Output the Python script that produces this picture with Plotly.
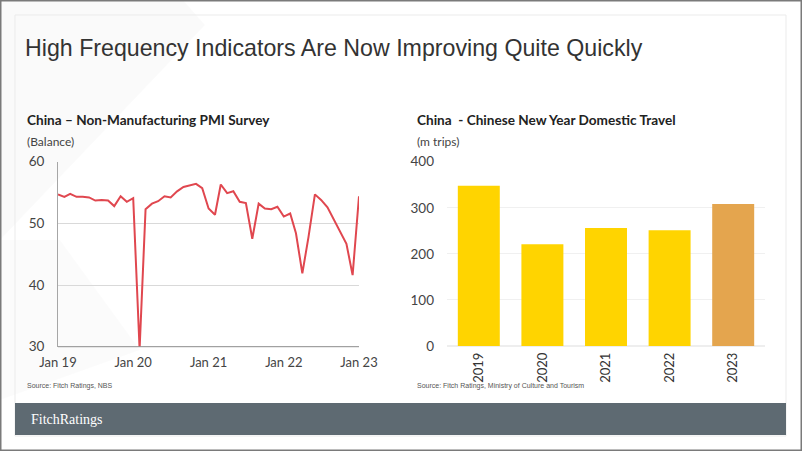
import plotly.graph_objects as go
import pandas as pd

W, H = 802, 451

# ---- Data ----
pmi_months = pd.date_range("2019-01-01", "2023-01-01", freq="MS")
pmi_values = [
    54.7, 54.3, 54.8, 54.3, 54.3, 54.2, 53.7, 53.8, 53.7, 52.8, 54.4, 53.5,
    54.1, 29.6, 52.3, 53.2, 53.6, 54.4, 54.2, 55.2, 55.9, 56.2, 56.4, 55.7,
    52.4, 51.4, 56.3, 54.9, 55.2, 53.5, 53.3, 47.5, 53.2, 52.4, 52.3, 52.7,
    51.1, 51.6, 48.4, 41.9, 47.8, 54.7, 53.8, 52.6, 50.6, 48.7, 46.7, 41.6,
    54.4,
]
travel_years = ["2019", "2020", "2021", "2022", "2023"]
travel_trips = [348, 221, 256, 251, 308]
bar_colors = ["#FFD400", "#FFD400", "#FFD400", "#FFD400", "#E4A54E"]

pmi_ticks = [30, 40, 50, 60]
travel_ticks = [0, 100, 200, 300, 400]


def px(x):
    return x / W


def py(y):
    return 1 - y / H


fig = go.Figure()

fig.add_trace(go.Scatter(
    x=pmi_months, y=pmi_values, mode="lines",
    line=dict(color="#E0474F", width=2),
    xaxis="x", yaxis="y", showlegend=False, hoverinfo="x+y",
))

fig.add_trace(go.Bar(
    x=travel_years, y=travel_trips, marker=dict(color=bar_colors, line=dict(width=0)),
    xaxis="x2", yaxis="y2", showlegend=False,
))

tick_font = dict(family="Lato", size=13.5, color="#444444")

fig.update_layout(
    width=W, height=H,
    margin=dict(l=0, r=0, t=0, b=0, pad=0),
    autosize=False,
    paper_bgcolor="white", plot_bgcolor="rgba(0,0,0,0)",
    bargap=0.34,
    xaxis=dict(
        domain=[px(58), px(359)], anchor="y", automargin=False,
        type="date", range=["2019-01-01", "2023-01-01"],
        tickformat="%b %y", dtick="M12", tick0="2019-01-01",
        showgrid=False, showline=False, ticks="",
        tickfont=dict(family="Lato", size=13, color="#444444"), ticklabelstandoff=6,
    ),
    yaxis=dict(
        domain=[py(346.7), py(161.7)], anchor="x", automargin=False,
        range=[30, 60], tickvals=pmi_ticks,
        showgrid=True, gridcolor="#D9D9D9", gridwidth=1,
        showline=True, linecolor="#A6A6A6", linewidth=1,
        zeroline=False, ticks="", tickfont=tick_font, ticklabelstandoff=10,
    ),
    xaxis2=dict(
        domain=[px(447), px(765)], anchor="y2", automargin=False,
        showgrid=False, showline=False, ticks="",
        tickangle=-90, tickfont=dict(family="Lato", size=13, color="#333333"),
        ticklabelstandoff=3,
    ),
    yaxis2=dict(
        domain=[py(346.0), py(161.7)], anchor="x2", automargin=False,
        range=[0, 400], tickvals=travel_ticks,
        showgrid=True, gridcolor="#F0F0F0", gridwidth=1,
        showline=False, zeroline=True, zerolinecolor="#EEEEEE",
        ticks="", tickfont=tick_font, ticklabelstandoff=12,
    ),
)

shapes = []
# faint background decoration
shapes.append(dict(type="path", xref="paper", yref="paper", layer="below",
                   path=f"M {px(0)} {py(0)} L {px(183)} {py(0)} L {px(205)} {py(25)} L {px(0)} {py(240)} Z",
                   fillcolor="rgba(0,0,0,0.018)", line=dict(width=0)))
shapes.append(dict(type="path", xref="paper", yref="paper", layer="below",
                   path=f"M {px(0)} {py(240)} L {px(60)} {py(240)} L {px(140)} {py(350)} L {px(0)} {py(400)} Z",
                   fillcolor="rgba(0,0,0,0.015)", line=dict(width=0)))
# inner panel border
shapes.append(dict(type="rect", xref="paper", yref="paper", layer="below",
                   x0=px(15), x1=px(786), y0=py(436), y1=py(15),
                   line=dict(color="#EBEBEB", width=1), fillcolor="rgba(0,0,0,0)"))
# outer frame
shapes.append(dict(type="rect", xref="paper", yref="paper",
                   x0=px(0.75), x1=px(801.25), y0=py(450.25), y1=py(0.75),
                   line=dict(color="#7A7A7A", width=1.5), fillcolor="rgba(0,0,0,0)"))
# left chart bottom axis line
shapes.append(dict(type="line", xref="paper", yref="paper",
                   x0=px(58), x1=px(359), y0=py(346.7), y1=py(346.7),
                   line=dict(color="#8C8C8C", width=1)))
# footer band
shapes.append(dict(type="rect", xref="paper", yref="paper",
                   x0=px(15), x1=px(786), y0=py(435), y1=py(403),
                   line=dict(width=0), fillcolor="#5E6A72"))
fig.update_layout(shapes=shapes)

ann = []


def text(x, y, s, size, color, family, bold=False):
    ann.append(dict(xref="paper", yref="paper", x=px(x), y=py(y),
                    xanchor="left", yanchor="middle", showarrow=False,
                    text=(f"<b>{s}</b>" if bold else s),
                    font=dict(size=size, color=color, family=family)))


text(23, 48, "High Frequency Indicators Are Now Improving Quite Quickly", 23.2, "#333333", "Liberation Sans, Arial")
text(25, 120, "China – Non-Manufacturing PMI Survey", 13.6, "#222222", "Lato", bold=True)
text(25, 141, "(Balance)", 12, "#444444", "Lato")
text(415, 120, "China&nbsp; - Chinese New Year Domestic Travel", 13.6, "#222222", "Lato", bold=True)
text(415, 141, "(m trips)", 12, "#444444", "Lato")
text(25, 386, "Source: Fitch Ratings, NBS", 7, "#555555", "Liberation Sans, Arial")
text(415, 386, "Source: Fitch Ratings, Ministry of Culture and Tourism", 7, "#555555", "Liberation Sans, Arial")
text(29, 419, "FitchRatings", 14, "#FFFFFF", "Liberation Serif, serif")
fig.update_layout(annotations=ann)

fig.write_html(
    "out.html",
    config={"displayModeBar": False},
    post_script="document.body.style.margin='0';document.body.style.padding='0';document.body.style.overflow='hidden';",
)
